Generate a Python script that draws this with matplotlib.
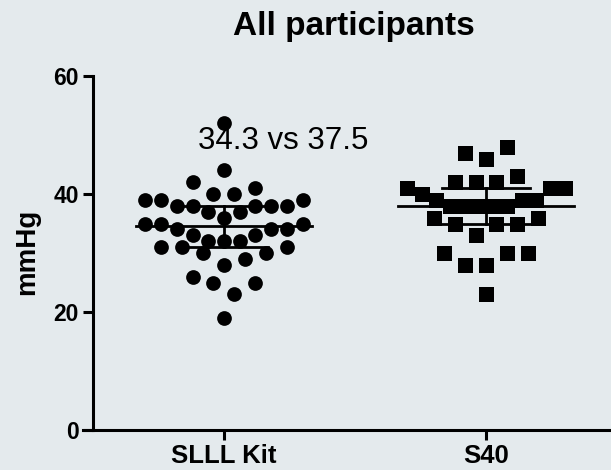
#!/usr/bin/env python3
"""Scatter (swarm) of pressure readings per kit, median with IQR."""
import numpy as np
import matplotlib
matplotlib.use("Agg")
import matplotlib.pyplot as plt

plt.rcParams["font.family"] = ["Liberation Sans", "DejaVu Sans"]

# values
groups = ["SLLL Kit", "S40"]
slll_kit = [52, 44, 42, 40, 40, 41, 39, 39, 38, 38, 37, 36, 37, 38, 38, 38, 39,
            35, 34, 34, 33, 32, 32, 32, 33, 34, 35, 35,
            31, 31, 30, 28, 29, 30, 31, 26, 25, 25, 23, 19]
s40 = [47, 46, 48, 41, 41, 42, 42, 42, 43, 41, 40, 39, 39, 38, 38, 38, 38, 38, 39,
       36, 35, 35, 35, 33, 36, 30, 28, 28, 30, 30, 23]
yticks = [0, 20, 40, 60]
title = "All participants"
ylabel = "mmHg"
note = "34.3 vs 37.5"

BG = "#e4eaed"


def swarm_offsets(vals, row_h=3.5, step=0.080, max_span=0.60, first=1):
    # GraphPad-like rows: greedy bins from the bottom, lowest value in the middle
    vals = np.asarray(vals, float)
    order = np.argsort(vals, kind="stable")
    offs = np.zeros(len(vals))
    i = 0
    while i < len(order):
        lo = vals[order[i]]
        j = i
        while j < len(order) and vals[order[j]] < lo + row_h:
            j += 1
        row = order[i:j]
        n = len(row)
        s = step if n < 2 else min(step, max_span / (n - 1))
        slots = np.arange(n) - (n - 1) / 2
        slots = sorted(slots, key=lambda k: (abs(k), -first * np.sign(k)))
        for idx, k in zip(row, slots):
            offs[idx] = k * s
        i = j
    return offs


fig = plt.figure(figsize=(6.11, 4.70), dpi=100, facecolor=BG)
ax = fig.add_axes([83 / 611, 40 / 470, 528 / 611, 354 / 470])
ax.set_facecolor(BG)

series = [(slll_kit, "o", 10.6, 1), (s40, "s", 10.8, -1)]
for pos, (vals, marker, ms, first) in enumerate(series, start=1):
    xs = pos + swarm_offsets(vals, first=first)
    ax.plot(xs, vals, linestyle="none", marker=marker, markersize=ms,
            color="black", markeredgewidth=0, zorder=3)
    med = np.median(vals)
    q1, q3 = np.percentile(vals, [25, 75], method="weibull")
    ax.plot([pos - 0.336, pos + 0.336], [med, med], color="black", lw=2, zorder=4)
    ax.plot([pos - 0.168, pos + 0.168], [q1, q1], color="black", lw=2, zorder=4)
    ax.plot([pos - 0.168, pos + 0.168], [q3, q3], color="black", lw=2, zorder=4)
    ax.plot([pos, pos], [q1, q3], color="black", lw=2, zorder=4)

ax.text(1.225, 47.6, note, ha="center", va="baseline", fontsize=22.5, zorder=5)

ax.set_xlim(0.462, 2.477)
ax.set_ylim(0, 60)
for side in ["top", "right"]:
    ax.spines[side].set_visible(False)
ax.spines["left"].set_position(("data", 0.5))
for side in ["left", "bottom"]:
    ax.spines[side].set_linewidth(2.2)

ax.set_yticks(yticks)
ax.set_yticklabels([str(t) for t in yticks], fontsize=16.5, fontweight="bold")
ax.set_xticks([1, 2])
ax.set_xticklabels(groups, fontsize=18.5, fontweight="bold")
ax.tick_params(axis="y", direction="out", length=7, width=2.2, pad=3)
ax.tick_params(axis="x", direction="out", length=7, width=2.2, pad=3)

fig.text(354 / 611, 1 - 35 / 470, title, ha="center", va="baseline",
         fontsize=24, fontweight="bold")
fig.text(27 / 611, 0.4649, ylabel, rotation=90, ha="center", va="center",
         fontsize=20, fontweight="bold")

fig.savefig("out.png", dpi=100, facecolor=BG)
